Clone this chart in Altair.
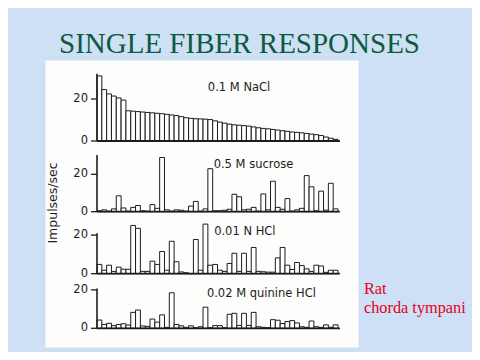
import altair as alt
import pandas as pd

# ---------------- data ----------------
fibers = list(range(1, 51))
nacl = [31, 24.5, 22.4, 21.4, 20.5, 19.5, 14.4, 14.2, 14.0, 13.8,
        13.6, 13.4, 13.2, 13.0, 12.7, 12.4, 12.1, 11.6, 11.1, 10.8,
        10.6, 10.5, 10.4, 10.2, 9.6, 9.0, 8.5, 8.0, 7.7, 7.5,
        7.3, 7.1, 6.7, 6.3, 6.0, 5.8, 5.5, 5.2, 4.9, 4.6,
        4.3, 4.1, 3.9, 3.6, 3.3, 3.0, 2.6, 1.9, 1.3, 0.8]
sucrose = [0.5, 1.0, 0.3, 1.5, 8.5, 2.0, 0.3, 2.3, 3.3, 0.5,
           0.3, 3.8, 1.8, 29.0, 1.0, 0.3, 1.0, 0.8, 0.3, 3.0,
           5.5, 0.3, 1.5, 23.0, 0.5, 0.5, 0.8, 1.3, 9.3, 8.0,
           1.0, 1.3, 2.3, 0.3, 9.5, 1.0, 16.3, 2.3, 1.3, 7.0,
           0.3, 1.0, 1.8, 19.3, 13.3, 0.5, 11.0, 0.8, 15.2, 1.5]
hcl = [4.8, 1.8, 4.4, 1.2, 3.4, 2.3, 2.3, 25.0, 23.5, 1.2,
       1.2, 6.5, 4.8, 11.5, 1.8, 16.8, 6.2, 0.9, 0.5, 0.0,
       17.7, 1.8, 25.7, 4.4, 4.8, 1.8, 1.2, 5.3, 10.6, 1.2,
       10.6, 1.2, 13.6, 1.2, 1.0, 0.8, 0.8, 8.2, 13.6, 4.4,
       2.2, 5.8, 4.2, 2.5, 1.2, 4.4, 4.0, 0.7, 1.8, 1.8]
quinine = [4.3, 2.0, 2.6, 1.4, 2.0, 2.4, 1.7, 8.3, 9.5, 1.2,
           1.0, 4.8, 3.2, 7.0, 0.5, 18.5, 2.0, 1.3, 0.5, 1.3,
           0.3, 0.8, 11.0, 0.3, 1.4, 1.4, 0.3, 7.3, 7.8, 1.5,
           7.8, 1.5, 8.3, 0.8, 0.5, 0.3, 4.5, 4.2, 2.5, 3.5,
           4.0, 2.8, 0.8, 0.5, 3.8, 0.8, 0.5, 1.8, 0.5, 1.8]
series = [nacl, sucrose, hcl, quinine]
stimuli = ["0.1 M NaCl", "0.5 M sucrose", "0.01 N HCl", "0.02 M quinine HCl"]
tick_values = [0, 20]
axis_tops = [32.0, 30.3, 20.9, 20.7]
title_text = "SINGLE FIBER RESPONSES"
y_title = "Impulses/sec"
note_text = "Rat\nchorda tympani"

# ---------------- layout ----------------
W, H = 313, 287                 # white figure area (plot area)
px_per_fiber = 4.82
first_bar_px = 52               # left edge of first bar from plot left
x_domain = [0.5 - first_bar_px / px_per_fiber,
            0.5 + (W - first_bar_px) / px_per_fiber]
panel_base_px = [81.0, 151.7, 213.7, 268.3]   # zero line, px from plot top
panel_px_per_unit = [2.1, 1.87, 1.93, 1.92]
label_pos = [(23.5, 24.0), (24.7, 23.5), (24.8, 20.0), (23.3, 16.1)]
tick_len = 6 / px_per_fiber
label_gap = 9 / px_per_fiber

INK = "#1c1c1c"
SANS = "DejaVu Sans"
SERIF = "Liberation Serif"

xs = alt.Scale(domain=x_domain, nice=False, zero=False)


def make_panel(i):
    k = panel_px_per_unit[i]
    b = panel_base_px[i]
    ys = alt.Scale(domain=[(b - H) / k, b / k], nice=False, zero=False)

    bars_df = pd.DataFrame({"fiber": fibers, "rate": series[i]})
    bars = (
        alt.Chart(bars_df)
        .transform_calculate(left="datum.fiber - 0.5", right="datum.fiber + 0.5")
        .mark_bar(fill="#ffffff", stroke=INK, strokeWidth=1)
        .encode(
            x=alt.X("left:Q", scale=xs, axis=None),
            x2="right:Q",
            y=alt.Y("rate:Q", scale=ys, axis=None),
            y2=alt.datum(0),
        )
    )

    frame_df = pd.DataFrame({"a": [0.5], "b": [50.9], "zero": [0.0],
                             "top": [axis_tops[i]]})
    baseline = (
        alt.Chart(frame_df)
        .mark_rule(stroke=INK, strokeWidth=1.8)
        .encode(x=alt.X("a:Q", scale=xs, axis=None), x2="b:Q",
                y=alt.Y("zero:Q", scale=ys, axis=None))
    )
    axis_line = (
        alt.Chart(frame_df)
        .mark_rule(stroke=INK, strokeWidth=1.6)
        .encode(x=alt.X("a:Q", scale=xs, axis=None),
                y=alt.Y("zero:Q", scale=ys, axis=None), y2="top:Q")
    )

    tick_df = pd.DataFrame({"t": tick_values,
                            "a": [0.5 - tick_len] * len(tick_values),
                            "b": [0.5] * len(tick_values),
                            "lx": [0.5 - label_gap] * len(tick_values),
                            "lab": [str(v) for v in tick_values]})
    ticks = (
        alt.Chart(tick_df)
        .mark_rule(stroke=INK, strokeWidth=1.3)
        .encode(x=alt.X("a:Q", scale=xs, axis=None), x2="b:Q",
                y=alt.Y("t:Q", scale=ys, axis=None))
    )
    tick_labels = (
        alt.Chart(tick_df)
        .mark_text(align="right", baseline="middle", font=SANS,
                   fontSize=11.5, color=INK)
        .encode(x=alt.X("lx:Q", scale=xs, axis=None),
                y=alt.Y("t:Q", scale=ys, axis=None), text="lab:N")
    )

    lab_df = pd.DataFrame({"lx": [label_pos[i][0]], "ly": [label_pos[i][1]],
                           "txt": [stimuli[i]]})
    label = (
        alt.Chart(lab_df)
        .mark_text(align="left", baseline="alphabetic", font=SANS,
                   fontSize=11.5, color=INK)
        .encode(x=alt.X("lx:Q", scale=xs, axis=None),
                y=alt.Y("ly:Q", scale=ys, axis=None), text="txt:N")
    )
    return alt.layer(bars, baseline, axis_line, ticks, tick_labels, label)


panels = [make_panel(i) for i in range(4)]

title = (
    alt.Chart(pd.DataFrame({"t": [title_text]}))
    .mark_text(font=SERIF, fontSize=29, color="#0f5a3d", align="center",
               baseline="alphabetic")
    .encode(x=alt.value(194.5), y=alt.value(-7), text="t:N")
)
ytitle = (
    alt.Chart(pd.DataFrame({"t": [y_title]}))
    .mark_text(font=SANS, fontSize=12.5, color=INK, align="center",
               baseline="alphabetic", angle=270)
    .encode(x=alt.value(12), y=alt.value(143), text="t:N")
)
note = (
    alt.Chart(pd.DataFrame({"t": [note_text]}))
    .mark_text(font=SERIF, fontSize=16.3, color="#e3001b", align="left",
               baseline="alphabetic", lineBreak="\n", lineHeight=19.8)
    .encode(x=alt.value(319), y=alt.value(233.5), text="t:N")
)

chart = (
    alt.layer(*panels, title, ytitle, note)
    .resolve_scale(y="independent")
    .properties(
        width=W, height=H,
        autosize=alt.AutoSizeParams(type="none"),
        padding={"left": 37, "top": 52, "right": 114, "bottom": 5},
        background="#cde0f5",
    )
    .configure_view(stroke="transparent", fill="#fdfdfb")
)

chart.save("out.html", embed_options={"renderer": "svg", "actions": False})
